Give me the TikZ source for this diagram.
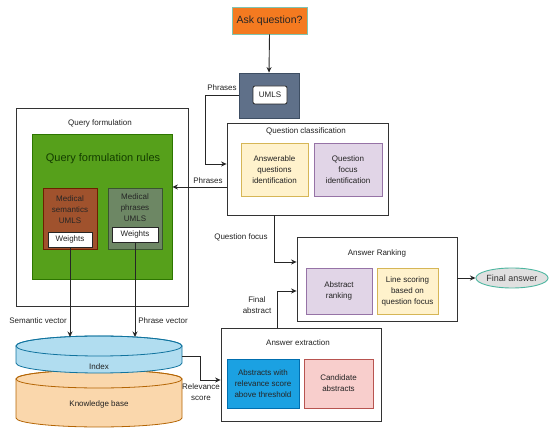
\documentclass[tikz,border=0pt]{standalone}
\usepackage{fontspec}
\setmainfont{Liberation Sans}
\usetikzlibrary{arrows.meta,shapes.geometric,calc}
\definecolor{askfill}{HTML}{F47A20}
\definecolor{askline}{HTML}{7FC4B0}
\definecolor{umlsfill}{HTML}{5F7089}
\definecolor{umlsline}{HTML}{3E4E63}
\definecolor{grfill}{HTML}{56A01B}
\definecolor{grline}{HTML}{2D7600}
\definecolor{grtext}{HTML}{143D00}
\definecolor{brfill}{HTML}{A0522D}
\definecolor{brline}{HTML}{6D1F00}
\definecolor{sgfill}{HTML}{6D8764}
\definecolor{sgline}{HTML}{3A5431}
\definecolor{yelfill}{HTML}{FFF2CC}
\definecolor{yelline}{HTML}{D6B656}
\definecolor{purfill}{HTML}{E1D5E7}
\definecolor{purline}{HTML}{9673A6}
\definecolor{blfill}{HTML}{1BA1E2}
\definecolor{blline}{HTML}{006EAF}
\definecolor{pkfill}{HTML}{F8CECC}
\definecolor{pkline}{HTML}{B85450}
\definecolor{idxfill}{HTML}{B1DDF0}
\definecolor{idxline}{HTML}{10739E}
\definecolor{kbfill}{HTML}{FAD7AC}
\definecolor{kbline}{HTML}{B46504}
\definecolor{fafill}{HTML}{E0E0E0}
\definecolor{faline}{HTML}{4DB6A0}
\definecolor{txt}{HTML}{222222}
\tikzset{
  box/.style={draw, inner sep=0pt, line width=0.8pt, align=center, text=txt,
    font=\fontsize{8}{11}\selectfont},
  outer/.style={box, draw=black!80, fill=white},
  lbl/.style={inner sep=0pt, align=center, text=txt, font=\fontsize{8}{11}\selectfont},
  arr/.style={draw=black!85, line width=0.9pt, -{Stealth[length=5.5pt,width=5pt]}},
  wbox/.style={box, draw=black!85, fill=white}
}
\begin{document}
\begin{tikzpicture}[x=1pt,y=-1pt]
\useasboundingbox (0,0) rectangle (550,435);

% Ask question
\node[box, fill=askfill, draw=askline, minimum width=75pt, minimum height=27pt,
  font=\fontsize{10.5}{12}\selectfont, text=black!85] (ask) at (269.5,20.5) {Ask question?};

% UMLS
\node[box, fill=umlsfill, draw=umlsline, minimum width=60pt, minimum height=45pt] (umlsO) at (269,95.5) {};
\node[wbox, rounded corners=2pt, minimum width=34pt, minimum height=18pt] (umlsI) at (270,95) {UMLS};

% Query formulation
\node[outer, minimum width=172pt, minimum height=198pt] (qf) at (102,207) {};
\node[lbl] (qft) at (100,123) {Query formulation};
\node[box, fill=grfill, draw=grline, minimum width=140pt, minimum height=145pt] (green) at (102,206.5) {};
\node[lbl, text=grtext, font=\fontsize{11}{13}\selectfont] (rules) at (103,159) {Query formulation rules};
\node[box, fill=brfill, draw=brline, minimum width=54pt, minimum height=61pt] (ms) at (70,218.5) {};
\node[lbl, text=black!85] (mst) at (70,210) {Medical\\semantics\\UMLS};
\node[wbox, minimum width=44pt, minimum height=15pt] (msW) at (70,239.5) {Weights};
\node[box, fill=sgfill, draw=sgline, minimum width=54pt, minimum height=61pt] (mp) at (135,218.5) {};
\node[lbl, text=black!85] (mpt) at (135,207.5) {Medical\\phrases\\UMLS};
\node[wbox, minimum width=46pt, minimum height=15pt] (mpW) at (135,234.5) {Weights};

% Question classification
\node[outer, minimum width=161pt, minimum height=92pt] (qc) at (307.5,169) {};
\node[lbl] (qct) at (306,131) {Question classification};
\node[box, fill=yelfill, draw=yelline, minimum width=67pt, minimum height=53pt] (ans) at (274.5,169.5) {Answerable\\questions\\identification};
\node[box, fill=purfill, draw=purline, minimum width=68pt, minimum height=53pt] (qfoc) at (348,169.5) {Question\\focus\\identification};

% Answer Ranking
\node[outer, minimum width=160pt, minimum height=84pt] (ar) at (377,279) {};
\node[lbl] (art) at (377,253) {Answer Ranking};
\node[box, fill=purfill, draw=purline, minimum width=66pt, minimum height=46pt] (absr) at (339,291) {Abstract\\ranking};
\node[box, fill=yelfill, draw=yelline, minimum width=61pt, minimum height=46pt] (lsc) at (407.5,291) {Line scoring\\based on\\question focus};

% Final answer
\node[ellipse, draw=faline, fill=fafill, line width=0.9pt, inner sep=0pt, minimum width=60pt, minimum height=20pt,
  font=\fontsize{9}{11}\selectfont, text=black!80] (final) at (512,278) {Final answer};

% Answer extraction
\node[outer, minimum width=160pt, minimum height=93pt] (ae) at (301,374.5) {};
\node[lbl] (aet) at (298,343) {Answer extraction};
\node[box, fill=blfill, draw=blline, minimum width=72pt, minimum height=49pt, text=black!85] (abs) at (263,383.5) {Abstracts with\\relevance score\\above threshold};
\node[box, fill=pkfill, draw=pkline, minimum width=69pt, minimum height=49pt] (cand) at (338.5,383.5) {Candidate\\abstracts};

% Knowledge base cylinder
\filldraw[fill=kbfill, draw=kbline, line width=0.8pt]
  (16,379) -- (16,418) arc[start angle=180, end angle=360, x radius=83pt, y radius=9pt]
  -- (182,379) arc[start angle=0, end angle=180, x radius=83pt, y radius=9pt] -- cycle;
\draw[kbline, line width=0.8pt] (99,379) ellipse [x radius=83pt, y radius=9pt];
\node[lbl] (kb) at (99,404) {Knowledge base};

% Index cylinder
\filldraw[fill=idxfill, draw=idxline, line width=0.8pt]
  (16,346) -- (16,363) arc[start angle=180, end angle=360, x radius=83pt, y radius=10pt]
  -- (182,346) arc[start angle=0, end angle=180, x radius=83pt, y radius=10pt] -- cycle;
\draw[idxline, line width=0.8pt] (99,346) ellipse [x radius=83pt, y radius=10pt];
\node[lbl] (idx) at (99,367) {Index};

\coordinate (idxA) at (70,337);
\coordinate (idxB) at (135,337);
\coordinate (idxR) at (182,356);

% connectors
\draw[arr] (ask.south) -- (umlsO.north);
\draw[arr] (umlsO.west) -- ++(-33,0) |- ([yshift=5pt]qc.west);
\node[lbl] (ph1) at (222,88) {Phrases};
\draw[arr] ([yshift=-18pt]qc.west) -- ([yshift=-18pt]qc.west -| green.east);
\node[lbl] (ph2) at (208,181) {Phrases};
\draw[arr] (msW.south) -- (idxA);
\draw[arr] (mpW.south) -- (idxB);
\node[lbl] (sv) at (38,321) {Semantic vector};
\node[lbl] (pv) at (163,321) {Phrase vector};
\draw[arr] ([xshift=-33.5pt]qc.south) |- ([yshift=17pt]ar.west);
\node[lbl] (qfl) at (241,237) {Question focus};
\draw[arr] ([xshift=-24pt]ae.north) |- ([yshift=-12pt]ar.west);
\node[lbl] (fal) at (257,305) {Final\\abstract};
\draw[arr] ([yshift=1pt]ar.east) -- (final.west);
\draw[arr] (idxR) -- (200,356) |- ([yshift=-5.5pt]ae.west);
\node[lbl] (rel) at (201,392.5) {Relevance\\score};
\end{tikzpicture}
\end{document}
